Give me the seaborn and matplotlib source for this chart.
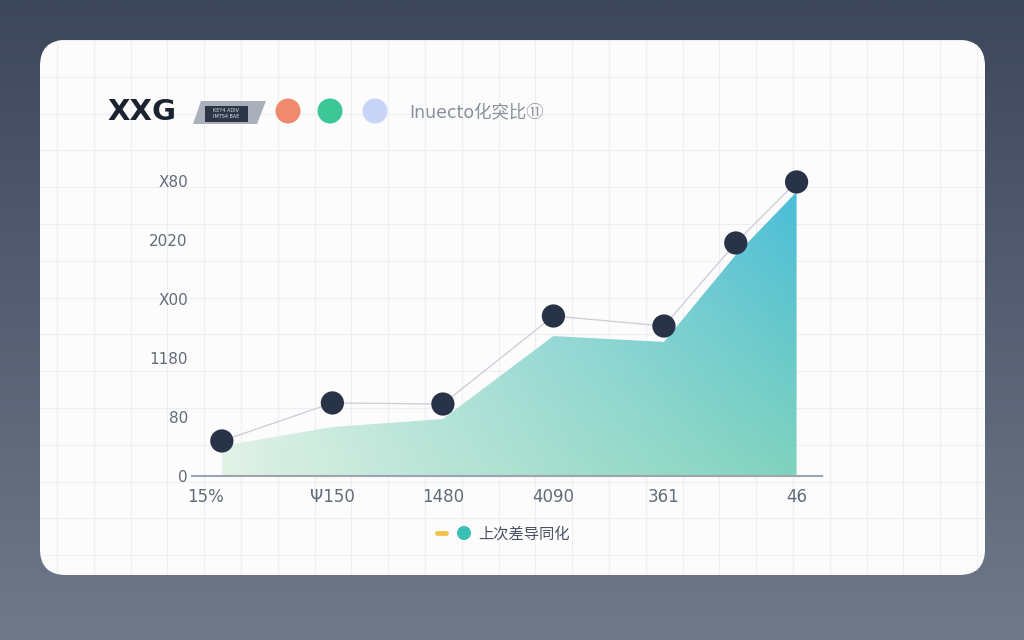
import numpy as np
import seaborn as sns
import matplotlib.pyplot as plt
from matplotlib.patches import FancyBboxPatch, Polygon, Circle, Rectangle

sns.set_theme(style="white")
plt.rcParams['font.family'] = ['DejaVu Sans', 'Noto Sans CJK SC']

# data
xs = [0, 1, 2, 3, 4, 4.65, 5.2]
line_vals = [297, 619, 610, 1356, 1271, 1975, 2492]
area_vals = [254, 415, 483, 1186, 1136, 1873, 2407]
xtick_pos = [-0.15, 1, 2, 3, 4, 5.2]
xtick_labels = ["15%", "Ψ150", "1480", "4090", "361", "46"]
ytick_pos = [0, 500, 1000, 1500, 2000, 2500]
ytick_labels = ["0", "80", "1180", "X00", "2020", "X80"]
title = "XXG"
subtitle = "Inuecto化突比⑪"
legend_label = "上次差导同化"

fig = plt.figure(figsize=(10.24, 6.4), dpi=100)

# background + card, drawn in pixel coordinates
bg = fig.add_axes([0, 0, 1, 1])
bg.set_xlim(0, 1024)
bg.set_ylim(640, 0)
bg.axis("off")
top = np.array([0x3d, 0x47, 0x5a]) / 255
bot = np.array([0x6f, 0x79, 0x8a]) / 255
grad = np.linspace(0, 1, 256)[:, None, None]
bg.imshow(top * (1 - grad) + bot * grad, extent=[0, 1024, 640, 0], aspect="auto", zorder=0)

card = FancyBboxPatch((40, 40), 945, 535, boxstyle="round,pad=0,rounding_size=26",
                      fc="#fcfcfd", ec="none", zorder=1)
bg.add_patch(card)
for gx in np.arange(57, 985, 36.8):
    l = bg.plot([gx, gx], [40, 575], color="#edeff2", lw=0.8, zorder=2)[0]
    l.set_clip_path(card)
for gy in np.arange(40, 575, 36.8):
    l = bg.plot([40, 985], [gy, gy], color="#edeff2", lw=0.8, zorder=2)[0]
    l.set_clip_path(card)

# header
bg.text(107, 112, title, fontsize=21, fontweight="bold", color="#1b2230", va="center", zorder=3)
bg.add_patch(Polygon([(201, 101), (266, 101), (257, 124), (193, 124)], closed=True,
                     fc="#a9b0bc", ec="none", zorder=3))
bg.add_patch(Rectangle((205, 106), 43, 16, fc="#2c3646", ec="none", zorder=4))
bg.text(226, 110, "KEY4 ADIV", fontsize=3.5, color="#dfe3ea", ha="center", va="center", zorder=5)
bg.text(226, 117, "IMTS4 BAE", fontsize=3.5, color="#dfe3ea", ha="center", va="center", zorder=5)
for cx, col in [(288, "#ef8a6e"), (330, "#3ec796"), (375, "#c9d5f7")]:
    bg.add_patch(Circle((cx, 111), 12.5, fc=col, ec="none", zorder=3))
bg.text(409, 112, subtitle, fontsize=12.5, color="#8a909a", va="center", zorder=3,
        family=['DejaVu Sans', 'Noto Sans CJK SC'])

# legend at bottom
bg.plot([437, 446], [533, 533], color="#f2c24f", lw=3.5, solid_capstyle="round", zorder=3)
bg.add_patch(Circle((464, 533), 7, fc="#3abfb4", ec="none", zorder=3))
bg.text(478, 534, legend_label, fontsize=11, color="#4a5262", va="center", zorder=3,
        family=['Noto Sans CJK SC', 'DejaVu Sans'])

# chart
ax = fig.add_axes([192 / 1024, (640 - 476) / 640, 630 / 1024, 316 / 640])
ax.patch.set_alpha(0)
ax.set_xlim(-0.27, 5.43)
ax.set_ylim(0, 2678)

poly = ax.fill_between(xs, area_vals, 0, color="none", lw=0)
ny, nx = 200, 300
t = np.linspace(0, 1, nx)[None, :, None]
s = np.linspace(0, 1, ny)[:, None, None]
left = np.array([0xe3, 0xf2, 0xe7]) / 255
right_bot = np.array([0x80, 0xd3, 0xbe]) / 255
right_top = np.array([0x4a, 0xbd, 0xd8]) / 255
tt = t ** 0.9
img = left * (1 - tt) + (right_bot * (1 - s) + right_top * s) * tt
im = ax.imshow(img, extent=[xs[0], xs[-1], 0, max(area_vals)], origin="lower",
               aspect="auto", zorder=1)
im.set_clip_path(poly.get_paths()[0], transform=ax.transData)

sns.lineplot(x=xs, y=line_vals, ax=ax, color="#cdd1d8", lw=1.0, zorder=2)
sns.scatterplot(x=xs, y=line_vals, ax=ax, color="#283347", s=280, edgecolor="none",
                zorder=3, clip_on=False)

ax.set_xticks(xtick_pos, xtick_labels)
ax.set_yticks(ytick_pos, ytick_labels)
ax.tick_params(axis="x", length=0, pad=9, labelsize=12, labelcolor="#636b78")
ax.tick_params(axis="y", length=0, pad=3, labelsize=11, labelcolor="#636b78")
sns.despine(ax=ax, left=True)
ax.spines["bottom"].set_color("#9ea4ac")
ax.spines["bottom"].set_linewidth(1.5)
ax.grid(False)

fig.savefig("out.png", dpi=100)
